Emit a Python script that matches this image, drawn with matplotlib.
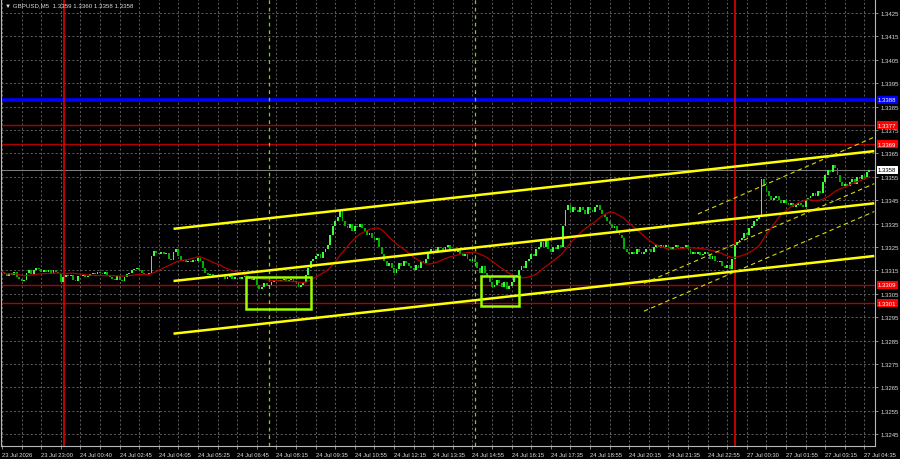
import matplotlib
matplotlib.use('Agg')
import matplotlib.pyplot as plt
import matplotlib.patches as mpatches
from matplotlib.transforms import blended_transform_factory
import numpy as np
import pandas as pd

PIP = 0.0001
BASE = 1.3300

# closing price of every M5 bar, in pips above 1.3300 (8 bars per row)
close_pips = [
    14.5, 13.5, 12.5, 14, 13, 14.5, 12, 11.5,
    10.5, 11, 14, 15, 13.5, 15, 16, 15.5,
    14.5, 15, 14.5, 15, 14, 15, 14.5, 14,
    10, 12, 13, 12.5, 13, 11, 10.5, 12.5,
    12.5, 13, 12, 12.5, 13.5, 14, 13.5, 14.5,
    14, 13.5, 14.5, 13, 12, 11.5, 11, 12.5,
    11, 10.5, 12, 13.5, 14, 15, 15.5, 16,
    15, 14, 13.5, 13, 14, 21, 23.5, 22.5,
    22, 23, 22, 22.5, 20, 19.5, 23, 24,
    21, 19, 19.5, 18.5, 19, 18.5, 19.5, 19,
    20.5, 19, 16, 14, 13, 13.5, 12.5, 12,
    12.5, 12, 12.5, 11.5, 12, 12.5, 11.5, 12,
    12, 11.5, 12, 12.5, 12, 11.5, 11, 12,
    9, 7, 8, 9.5, 8.5, 9, 10, 10.5,
    11, 10.5, 11, 11.5, 10.5, 11, 11.5, 10,
    10, 8, 9, 10, 13, 16, 19, 20,
    21, 22, 20.5, 23, 24, 26, 30, 34,
    36, 38, 41, 36, 34, 33, 35, 32,
    34, 33.5, 35, 33, 32, 30, 31, 29,
    28, 29, 25, 22, 19, 17, 18, 16,
    14, 15.5, 18, 17, 19, 18, 17, 16,
    15, 17.5, 16, 19, 18, 20, 23, 24,
    24, 23, 25, 24.5, 23, 25, 26, 24,
    24, 23, 24, 22, 21, 22, 20, 19,
    20, 18.5, 16, 14, 17, 14, 12, 10,
    8, 9, 11, 9.5, 8, 10, 7, 8.5,
    10, 12, 13, 15, 17, 16, 19, 20,
    22, 21, 24, 25, 27, 25, 28, 24,
    23, 25, 24, 26, 25, 34, 41, 43,
    40, 42, 41, 40, 42, 41, 39, 42,
    41, 40, 42, 43, 41, 39, 38, 36,
    35, 33, 34, 32, 30, 29, 24, 23,
    22, 23, 22, 24, 23, 22, 23, 24,
    24, 23, 25, 26, 25, 26, 25, 26,
    25, 24, 25, 26, 25, 24, 25, 26,
    24, 22, 23, 22, 23, 21.5, 22, 23,
    22, 20, 21, 19, 18.5, 19, 17, 16,
    17.5, 15.5, 20, 26, 27, 28, 29, 31,
    30, 33, 34, 36, 37, 38, 54, 51,
    49, 47, 45, 46, 47, 45, 44, 45,
    44, 43, 44, 42, 43, 44, 43, 42,
    45, 46, 47, 48, 47, 49, 48, 53,
    56, 58, 57, 60, 59, 56, 53, 51,
    52, 51, 53, 54, 52, 55, 54, 56,
    55, 57, 58,
]

time_labels = [
    '23 Jul 2026', '23 Jul 23:00', '24 Jul 00:40', '24 Jul 02:45', '24 Jul 04:05',
    '24 Jul 05:25', '24 Jul 06:45', '24 Jul 08:15', '24 Jul 09:35', '24 Jul 10:55',
    '24 Jul 12:15', '24 Jul 13:35', '24 Jul 14:55', '24 Jul 16:15', '24 Jul 17:35',
    '24 Jul 18:55', '24 Jul 20:15', '24 Jul 21:35', '24 Jul 22:55', '27 Jul 00:30',
    '27 Jul 01:55', '27 Jul 03:15', '27 Jul 04:35',
]
BARS_PER_LABEL = 16

# horizontal levels
blue_levels = [1.3388]
red_levels = [1.3377, 1.3369, 1.3309, 1.3301]
last_price = 1.3358
header = '\u25bc GBPUSD,M5  1.3359 1.3360 1.3358 1.3358'

# trend channel (bar index, price) pairs
channel_bars = [70, 356]
channel_upper = [1.33328, 1.33660]
channel_middle = [1.33105, 1.33437]
channel_lower = [1.32880, 1.33212]

# thin dashed channel on the last day: ([bar from, bar to], [price from, price to])
dash_lines = [
    ([284, 356], [1.33391, 1.33720]),
    ([262, 356], [1.33095, 1.33521]),
    ([262, 356], [1.32976, 1.33402]),
]

# highlighted boxes: (bar from, bar to, price low, price high)
boxes = [(99.5, 126, 1.32985, 1.33122), (195.5, 211, 1.32998, 1.33126)]

red_vlines = [25.3, 299]
green_vlines = [109, 193]

BULL = '#3cff3c'
BEAR = '#00b000'
GRID = '#6a6a6a'
TXT = '#dcdcdc'
XMAX = 356.3

closes = BASE + np.array(close_pips) * PIP
opens = np.r_[closes[0], closes[:-1]]
idx = np.arange(len(closes))
ma = pd.Series(closes).rolling(20, min_periods=1).mean()

plt.rcParams['font.family'] = ['Liberation Sans', 'DejaVu Sans']

fig = plt.figure(figsize=(9, 4.6), dpi=100, facecolor='black')
ax = fig.add_axes([1 / 900, 13 / 460, 874 / 900, 447 / 460])
ax.set_facecolor('black')

# ticks and grid
major = np.arange(len(time_labels)) * BARS_PER_LABEL
minor = major + BARS_PER_LABEL / 2
ax.set_xticks(major)
ax.set_xticks(minor[minor < XMAX], minor=True)
ax.set_xticklabels(time_labels)
yt = np.round(np.arange(1.3245, 1.34251, 0.001), 4)
ax.set_yticks(yt)
ax.set_yticklabels([f'{v:.4f}' for v in yt])
ax.set_xlim(-0.41, XMAX)
ax.set_ylim(1.32400, 1.34310)
ax.grid(which='both', axis='x', color=GRID, ls=(0, (2.5, 2.5)), lw=0.6)
ax.grid(which='major', axis='y', color=GRID, ls=(0, (2.5, 2.5)), lw=0.6)
ax.set_axisbelow(True)

ax.yaxis.tick_right()
ax.tick_params(axis='y', colors='#a0a0a0', labelcolor=TXT, labelsize=4.3, length=2.5, width=0.6, pad=1.5)
ax.tick_params(axis='x', which='both', colors='#a0a0a0', labelcolor=TXT, labelsize=4.2, length=2.5, width=0.6, pad=1.5)
for lab in ax.get_xticklabels():
    lab.set_horizontalalignment('left')
for side in ['left', 'right', 'bottom']:
    ax.spines[side].set_color('#b8b8b8')
    ax.spines[side].set_linewidth(0.8)
ax.spines['top'].set_visible(False)

# levels
for lv in blue_levels:
    ax.axhline(lv, color='#0000ff', lw=2.6, zorder=2)
for lv in red_levels:
    ax.axhline(lv, color='#b00000', lw=1.0, zorder=2)
ax.axhline(last_price, color='#808080', lw=0.7, zorder=2)

for vx in red_vlines:
    ax.axvline(vx, color='#e00000', lw=1.2, zorder=2)
for vx in green_vlines:
    ax.axvline(vx, color='#7fd000', lw=0.9, ls=(0, (3, 3)), zorder=2)

# candles
bull = closes >= opens
bottom = np.minimum(opens, closes)
height = np.maximum(np.abs(closes - opens), 0.35 * PIP)
ax.bar(idx[bull], height[bull], bottom=bottom[bull], width=0.75, color=BULL, lw=0, zorder=3)
ax.bar(idx[~bull], height[~bull], bottom=bottom[~bull], width=0.75, color=BEAR, lw=0, zorder=3)

ax.plot(idx, ma, color='#b00000', lw=0.9, zorder=4)

# channels
for ln in [channel_upper, channel_middle, channel_lower]:
    ax.plot(channel_bars, ln, color='#ffff00', lw=1.8, zorder=5, solid_capstyle='butt')
for bars, prices in dash_lines:
    ax.plot(bars, prices, color='#d8d800', lw=0.8, ls=(0, (4, 3)), zorder=5)

for b0, b1, p0, p1 in boxes:
    ax.add_patch(mpatches.Rectangle((b0, p0), b1 - b0, p1 - p0, fill=False,
                                    ec='#99ff00', lw=1.8, zorder=6))

# price badges on the right scale
tr = blended_transform_factory(ax.transAxes, ax.transData)
badges = [(v, '#0000ff', 'white') for v in blue_levels]
badges += [(v, '#ff0000', 'white') for v in red_levels]
badges += [(last_price, 'white', 'black')]
for v, fc, tc in badges:
    ax.text(1.0 + 3 / 874, v, f'{v:.4f}', transform=tr, ha='left', va='center',
            fontsize=4.3, color=tc, clip_on=False, zorder=10,
            bbox=dict(boxstyle='square,pad=0.25', fc=fc, ec='none'))

fig.text(5 / 900, 1 - 6 / 460, header, color=TXT, fontsize=4.4, va='center', ha='left')

fig.savefig('out.png', dpi=100, facecolor='black')
plt.close(fig)
